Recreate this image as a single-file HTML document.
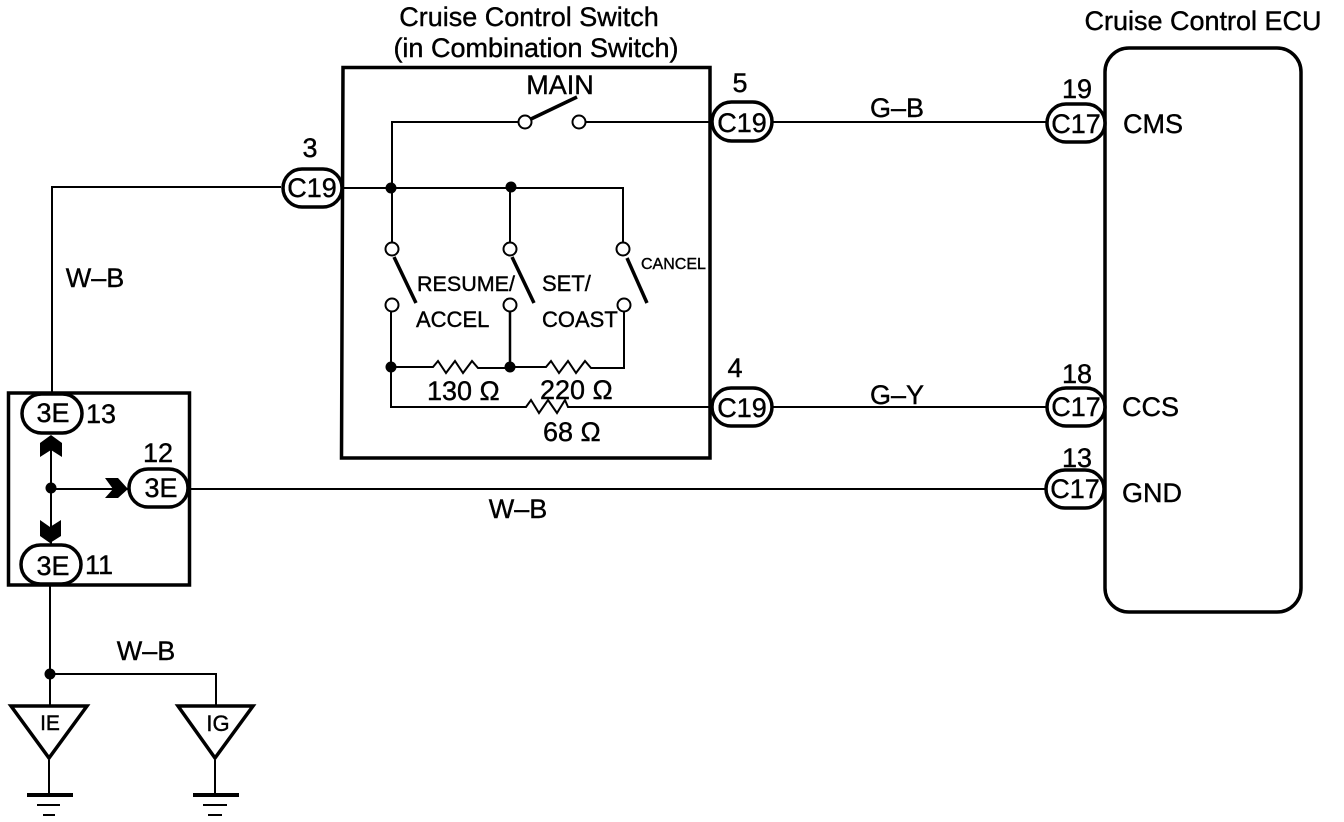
<!DOCTYPE html>
<html><head><meta charset="utf-8"><style>
html,body{margin:0;padding:0;background:#fff;width:1344px;height:822px;overflow:hidden}
svg{display:block}
text{font-family:"Liberation Sans",sans-serif;fill:#000;stroke:#000;stroke-width:.4;font-size:27px}
</style></head><body>
<svg width="1344" height="822" viewBox="0 0 1344 822" xmlns="http://www.w3.org/2000/svg">
<g fill="none" stroke="#000" stroke-width="2">
<!-- wires -->
<path d="M281 187H52V393"/>
<path d="M342 188H623V243"/>
<path d="M392 188V122H518"/>
<path d="M586 122H712"/>
<path d="M772 122H1046"/>
<path d="M772 407H1046"/>
<path d="M189 489H1046"/>
<path d="M392 188V243M510 188V243"/>
<path d="M391 311V407H526l5-7 8 13 9-13 9 13 8-13 3 7H712"/>
<path d="M510 311V367" stroke-width="2.5"/>
<path d="M391 367H433l5-6 8 12 9-12 8 12 9-12 6 7H510"/>
<path d="M510 367H546l5-6 8 12 9-12 8 12 9-12 6 7H624V311"/>
<path d="M51 440V546M51 489H130"/>
<path d="M50 585V706M50 674H216V706"/>
<path d="M49 760V794M215 760V794"/>
</g>
<!-- boxes -->
<g fill="none" stroke="#000">
<path d="M343 67.500H710V458H341.500Z" stroke-width="3.500"/>
<rect x="8.500" y="393" width="181" height="192" stroke-width="3.500"/>
<rect x="1105" y="48" width="196" height="564" rx="24" stroke-width="3.500"/>
</g>
<!-- switch blades -->
<g stroke="#000" stroke-width="3.500" fill="none">
<path d="M531 119L577 97"/>
<path d="M394 257L416 303"/>
<path d="M512 257L534 303"/>
<path d="M627 258L647 303"/>
</g>
<!-- terminals -->
<g fill="#fff" stroke="#000" stroke-width="2">
<circle cx="525" cy="122" r="6.500"/><circle cx="579" cy="122" r="6.500"/>
<circle cx="392" cy="249" r="6.500"/><circle cx="510" cy="249" r="6.500"/><circle cx="623" cy="249" r="6.500"/>
<circle cx="392" cy="305" r="6.500"/><circle cx="510" cy="305" r="6.500"/><circle cx="624" cy="305" r="6.500"/>
</g>
<!-- junctions -->
<g fill="#000">
<circle cx="391" cy="188" r="5.500"/><circle cx="511" cy="187" r="5.500"/>
<circle cx="391" cy="367" r="5.500"/><circle cx="510" cy="367" r="5.500"/>
<circle cx="51" cy="488" r="5.500"/><circle cx="50" cy="674" r="5.500"/>
<!-- arrows -->
<path d="M51 435L62 443V457L51 450 40 457V443Z"/>
<path d="M40 520L50 527 61 520V536L50 543 40 536Z"/>
<path d="M105 478H118L128 489 118 498H105L113 489Z"/>
<!-- ground bars -->
<rect x="27" y="793" width="46" height="4"/><rect x="37" y="804" width="23" height="2"/><rect x="43" y="814" width="12" height="2"/>
<rect x="193" y="793" width="46" height="4"/><rect x="203" y="804" width="24" height="2"/><rect x="208" y="814" width="14" height="2"/>
</g>
<!-- pills -->
<g fill="#fff" stroke="#000" stroke-width="3.500">
<rect x="712" y="102" width="60" height="39" rx="19.500"/>
<rect x="712" y="388" width="60" height="38" rx="19"/>
<rect x="283" y="169" width="59" height="38" rx="19"/>
<rect x="1047" y="104" width="58" height="38" rx="19"/>
<rect x="1047" y="388" width="58" height="38" rx="19"/>
<rect x="1046" y="470" width="58" height="38" rx="19"/>
<rect x="22" y="394" width="60" height="39" rx="19.500"/>
<rect x="129" y="469" width="59" height="38" rx="19"/>
<rect x="21" y="545" width="60" height="39" rx="19.500"/>
</g>
<!-- ground triangles -->
<g fill="#fff" stroke="#000" stroke-width="3.500">
<path d="M11 706H87L49 758Z"/>
<path d="M178 706H253L215 758Z"/>
</g>
<!-- labels -->
<text x="529" y="26" text-anchor="middle">Cruise Control Switch</text>
<text x="536" y="57" text-anchor="middle">(in Combination Switch)</text>
<text x="1203" y="30" text-anchor="middle">Cruise Control ECU</text>
<text x="560" y="94" text-anchor="middle">MAIN</text>
<text x="740" y="92" text-anchor="middle">5</text>
<text x="742" y="132" text-anchor="middle">C19</text>
<text x="735" y="377" text-anchor="middle">4</text>
<text x="742" y="417" text-anchor="middle">C19</text>
<text x="310" y="157" text-anchor="middle">3</text>
<text x="312" y="197" text-anchor="middle">C19</text>
<text x="897" y="117" text-anchor="middle">G–B</text>
<text x="897" y="404" text-anchor="middle">G–Y</text>
<text x="518" y="518" text-anchor="middle">W–B</text>
<text x="95" y="287" text-anchor="middle">W–B</text>
<text x="146" y="660" text-anchor="middle">W–B</text>
<text x="1077" y="98" text-anchor="middle">19</text>
<text x="1076" y="133" text-anchor="middle">C17</text>
<text x="1077" y="383" text-anchor="middle">18</text>
<text x="1076" y="416" text-anchor="middle">C17</text>
<text x="1077" y="467" text-anchor="middle">13</text>
<text x="1075" y="498" text-anchor="middle">C17</text>
<text x="1123" y="133">CMS</text>
<text x="1122" y="416">CCS</text>
<text x="1122" y="502">GND</text>
<text x="53" y="422" text-anchor="middle">3E</text>
<text x="101" y="423" text-anchor="middle">13</text>
<text x="161" y="497" text-anchor="middle">3E</text>
<text x="158" y="462" text-anchor="middle">12</text>
<text x="53" y="575" text-anchor="middle">3E</text>
<text x="99" y="574" text-anchor="middle">11</text>
<text x="50" y="730" text-anchor="middle" style="font-size:21px">IE</text>
<text x="218" y="731" text-anchor="middle" style="font-size:22px">IG</text>
<text x="417" y="291" style="font-size:21.500px">RESUME/</text>
<text x="416" y="327" style="font-size:22px">ACCEL</text>
<text x="542" y="291" style="font-size:22px">SET/</text>
<text x="542" y="327" style="font-size:22px">COAST</text>
<text x="641" y="269" style="font-size:16px">CANCEL</text>
<text x="427" y="400">130 Ω</text>
<text x="540" y="399">220 Ω</text>
<text x="543" y="441">68 Ω</text>
</svg>
</body></html>
